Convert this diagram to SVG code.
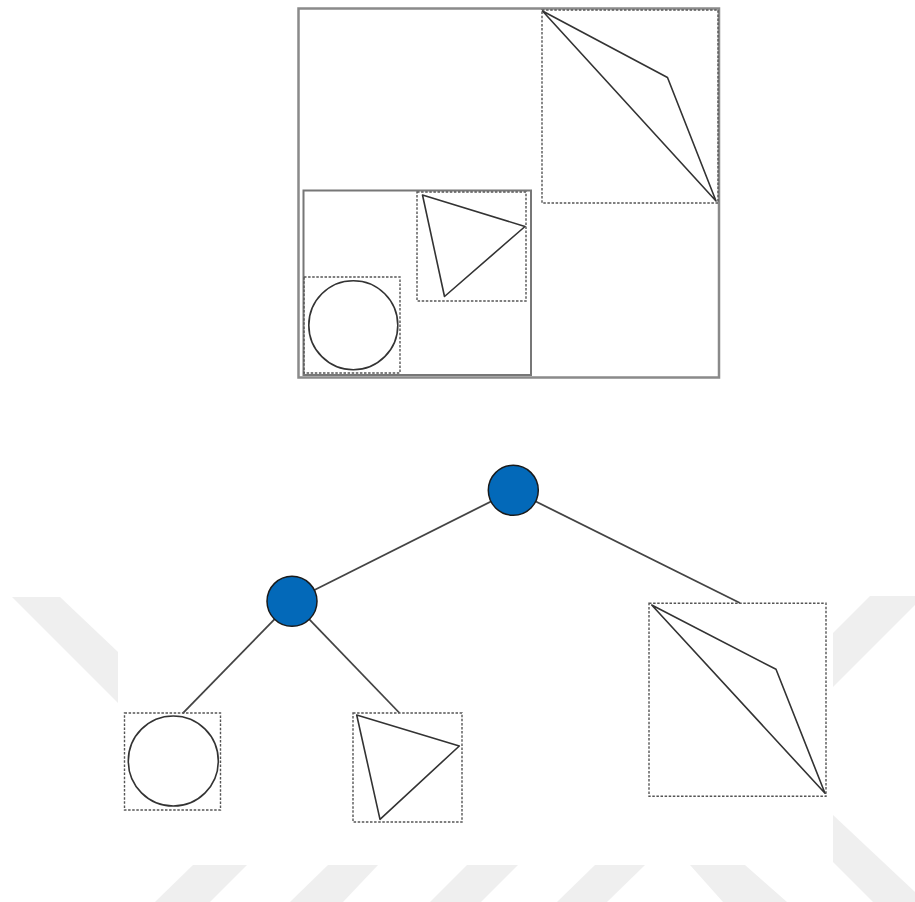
<svg xmlns="http://www.w3.org/2000/svg" width="915" height="902" viewBox="0 0 915 902">
  <style>
    .wm { fill: #efefef; stroke: none; }
    .frame { fill: none; stroke: #8a8a8a; stroke-width: 2.5; }
    .inner { fill: none; stroke: #777777; stroke-width: 2; }
    .bbox { fill: none; stroke: #555555; stroke-width: 1.4; stroke-dasharray: 2.5 1.6; }
    .shape { fill: none; stroke: #333333; stroke-width: 1.6; stroke-linejoin: round; }
    .edge { stroke: #444444; stroke-width: 1.8; fill: none; }
    .node { fill: #0369b9; stroke: #1a1a1a; stroke-width: 1.5; }
  </style>

  <rect width="915" height="902" fill="#ffffff"/>

  <!-- background stripes -->
  <g id="background-stripes">
    <polygon class="wm" points="12,597 60,597 118,652 118,703"/>
    <polygon class="wm" points="870,596 915,596 915,605 833,687 833,633"/>
    <polygon class="wm" points="833,815 915,892 915,902 873,902 833,862"/>
    <polygon class="wm" points="193,865 247,865 210,902 155,902"/>
    <polygon class="wm" points="328,865 378,865 343,902 290,902"/>
    <polygon class="wm" points="467,865 518,865 481,902 430,902"/>
    <polygon class="wm" points="595,865 645,865 607,902 557,902"/>
    <polygon class="wm" points="690,865 745,865 787,902 723,902"/>
  </g>

  <!-- spatial layout: nested bounding regions -->
  <g id="layout">
    <rect class="frame" x="298.5" y="8.5" width="420.5" height="369"/>
    <rect class="inner" x="303.5" y="190.5" width="227.5" height="184.5"/>
    <g id="layout-kite">
      <rect class="bbox" x="542" y="10" width="176" height="193"/>
      <polygon class="shape" points="542.5,11 667.5,77.5 716,201"/>
    </g>
    <g id="layout-triangle">
      <rect class="bbox" x="417" y="192" width="109" height="109"/>
      <polygon class="shape" points="422.5,195 525,226.5 444.5,296.5"/>
    </g>
    <g id="layout-circle">
      <rect class="bbox" x="304" y="277" width="96" height="96"/>
      <circle class="shape" cx="353.3" cy="325.2" r="44.5"/>
    </g>
  </g>

  <!-- tree connectors -->
  <g id="connectors">
    <line class="edge" x1="513.3" y1="490.3" x2="292" y2="601.3"/>
    <line class="edge" x1="513.3" y1="490.3" x2="740" y2="603"/>
    <line class="edge" x1="292" y1="601.3" x2="182.7" y2="713.3"/>
    <line class="edge" x1="292" y1="601.3" x2="399.5" y2="713"/>
  </g>

  <!-- tree nodes -->
  <g id="root">
    <circle class="node" cx="513.3" cy="490.3" r="25"/>
  </g>
  <g id="inner-node">
    <circle class="node" cx="292" cy="601.3" r="25"/>
  </g>
  <g id="leaf-circle">
    <rect class="bbox" x="124.5" y="713" width="96" height="97"/>
    <circle class="shape" cx="173.3" cy="761" r="45"/>
  </g>
  <g id="leaf-triangle">
    <rect class="bbox" x="353" y="713" width="109" height="109"/>
    <polygon class="shape" points="356.7,715 459.3,746 380,819.3"/>
  </g>
  <g id="leaf-kite">
    <rect class="bbox" x="649" y="603.3" width="177" height="193"/>
    <polygon class="shape" points="651.7,605 776,669.3 825,793.3"/>
  </g>
</svg>
